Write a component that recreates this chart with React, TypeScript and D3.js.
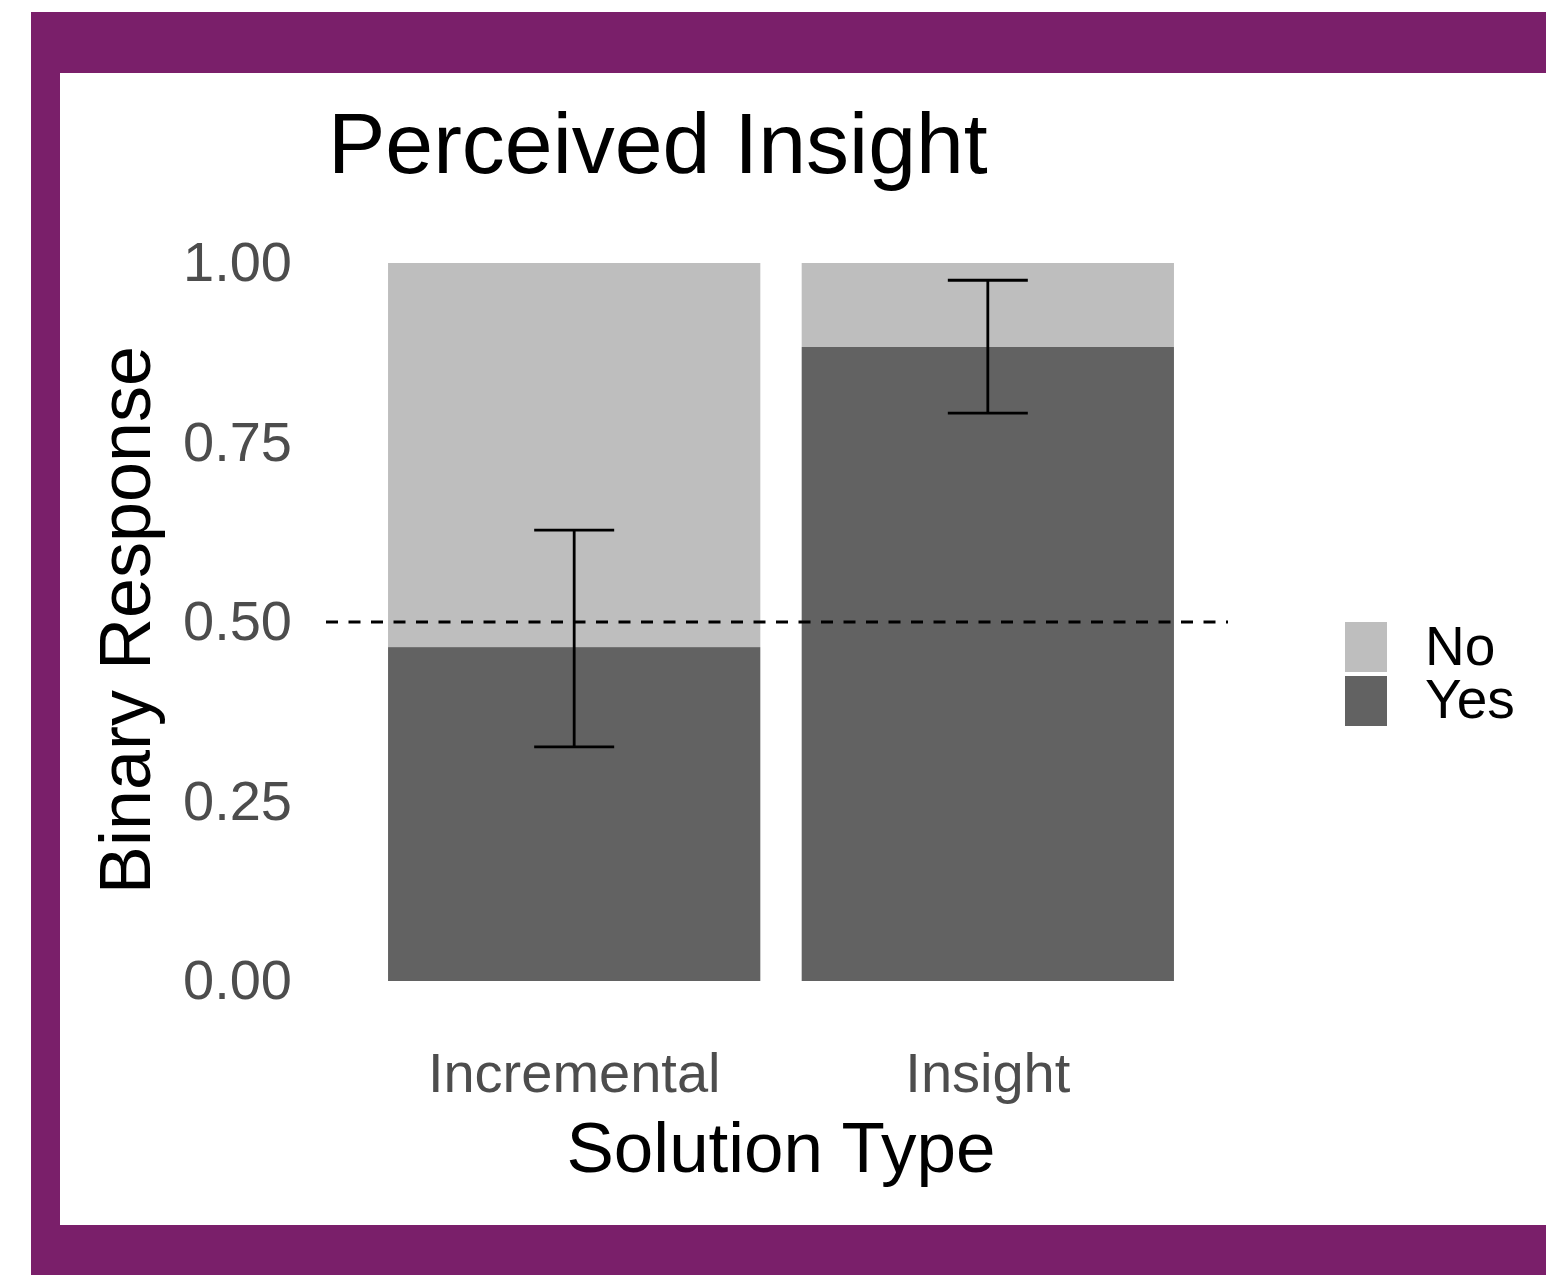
import { useEffect, useRef } from 'react';
import * as d3 from 'd3';

// values
const categories = ['Incremental', 'Insight'];
const yesShare = [0.465, 0.883];
const ciLower = [0.326, 0.791];
const ciUpper = [0.628, 0.976];
const yTicks = [0, 0.25, 0.5, 0.75, 1];
const legendLabels = ['No', 'Yes'];

const FONT = '"Liberation Sans", Arial, Helvetica, sans-serif';
const LIGHT = '#bebebe';
const DARK = '#626262';

export default function App() {
  const svgRef = useRef<SVGSVGElement>(null);

  useEffect(() => {
    const svg = d3.select(svgRef.current);
    svg.selectAll('*').remove();

    // frame: purple border, white card
    svg.append('rect').attr('x', 31).attr('y', 12).attr('width', 1515).attr('height', 1263).attr('fill', '#7a1f6a');
    svg.append('rect').attr('x', 60).attr('y', 73).attr('width', 1486).attr('height', 1152).attr('fill', '#ffffff');

    const x = d3.scaleBand().domain(categories).range([326, 1236]).paddingInner(0.1).paddingOuter(0.15);
    const y = d3.scaleLinear().domain([0, 1]).range([981, 263]);

    const rows = categories.map((c, i) => ({ c, yes: yesShare[i], lo: ciLower[i], hi: ciUpper[i] }));

    // stacked bars: No on top, Yes at the bottom
    svg.append('g').selectAll('rect').data(rows).join('rect')
      .attr('x', (d) => x(d.c)!)
      .attr('width', x.bandwidth())
      .attr('y', y(1))
      .attr('height', (d) => y(d.yes) - y(1))
      .attr('fill', LIGHT);
    svg.append('g').selectAll('rect').data(rows).join('rect')
      .attr('x', (d) => x(d.c)!)
      .attr('width', x.bandwidth())
      .attr('y', (d) => y(d.yes))
      .attr('height', (d) => y(0) - y(d.yes))
      .attr('fill', DARK);

    // chance line
    svg.append('line')
      .attr('x1', 326).attr('x2', 1228)
      .attr('y1', y(0.5)).attr('y2', y(0.5))
      .attr('stroke', '#000').attr('stroke-width', 2.8)
      .attr('stroke-dasharray', '12,10.5');

    // error bars
    const cap = 40;
    const eb = svg.append('g').attr('stroke', '#000').attr('stroke-width', 2.8).attr('fill', 'none');
    rows.forEach((d) => {
      const cx = x(d.c)! + x.bandwidth() / 2;
      eb.append('line').attr('x1', cx).attr('x2', cx).attr('y1', y(d.lo)).attr('y2', y(d.hi));
      eb.append('line').attr('x1', cx - cap).attr('x2', cx + cap).attr('y1', y(d.lo)).attr('y2', y(d.lo));
      eb.append('line').attr('x1', cx - cap).attr('x2', cx + cap).attr('y1', y(d.hi)).attr('y2', y(d.hi));
    });

    // axes
    const yAxis = d3.axisLeft(y).tickValues(yTicks).tickFormat(d3.format('.2f')).tickSize(0).tickPadding(34);
    const gy = svg.append('g').attr('transform', 'translate(326,0)').call(yAxis);
    gy.select('.domain').remove();
    gy.selectAll('text').attr('font-size', 56).attr('font-family', FONT).attr('fill', '#4d4d4d');

    const xAxis = d3.axisBottom(x).tickSize(0).tickPadding(71);
    const gx = svg.append('g').attr('transform', 'translate(0,981)').call(xAxis);
    gx.select('.domain').remove();
    gx.selectAll('text').attr('font-size', 56).attr('font-family', FONT).attr('fill', '#4d4d4d');

    // titles
    svg.append('text').attr('x', 328).attr('y', 173).attr('font-size', 86).attr('font-family', FONT)
      .attr('fill', '#000').text('Perceived Insight');
    svg.append('text').attr('x', 781).attr('y', 1172).attr('text-anchor', 'middle').attr('font-size', 71)
      .attr('font-family', FONT).attr('fill', '#000').text('Solution Type');
    svg.append('text').attr('transform', 'translate(150,620) rotate(-90)').attr('text-anchor', 'middle')
      .attr('font-size', 72).attr('font-family', FONT).attr('fill', '#000').text('Binary Response');

    // legend
    const legend = svg.append('g').attr('transform', 'translate(1345,622)');
    legendLabels.forEach((lab, i) => {
      legend.append('rect').attr('x', 0).attr('y', i * 54).attr('width', 42).attr('height', 50)
        .attr('fill', i === 0 ? LIGHT : DARK);
      legend.append('text').attr('x', 80).attr('y', 43 + i * 53).attr('font-size', 55)
        .attr('font-family', FONT).attr('fill', '#000').text(lab);
    });
  }, []);

  return (
    <svg
      ref={svgRef}
      width={1546}
      height={1275}
      style={{ position: 'absolute', left: 0, top: 0, display: 'block' }}
    />
  );
}
